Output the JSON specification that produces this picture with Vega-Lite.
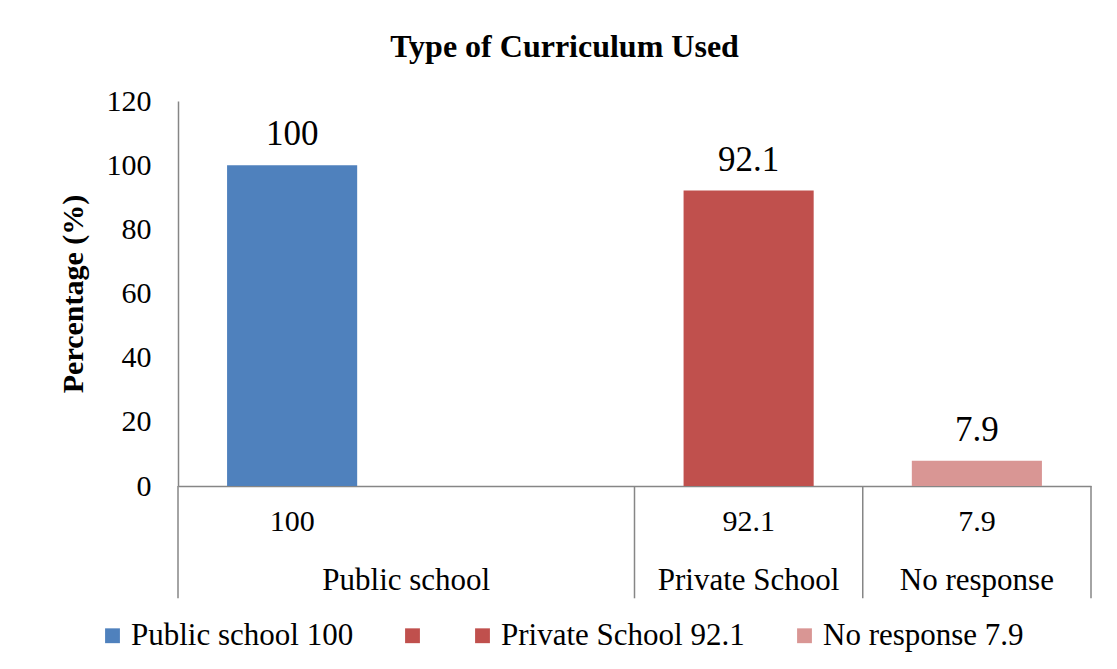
{
  "$schema": "https://vega.github.io/schema/vega-lite/v6.json",
  "width": 913,
  "height": 385,
  "autosize": {"type": "none"},
  "padding": {"left": 178, "top": 101, "right": 26, "bottom": 183},
  "background": "white",
  "config": {"view": {"stroke": null}, "font": "Liberation Serif"},
  "title": {"text": "Type of Curriculum Used", "font": "Liberation Serif", "fontSize": 32, "fontWeight": "bold", "color": "black", "dx": -70, "offset": 22},
  "datasets": {
    "bars": [
      {"slot": "s1", "category": "Public school  100", "value": 100, "label": "100"},
      {"slot": "s3", "category": "Private School  92.1", "value": 92.1, "label": "92.1"},
      {"slot": "s4", "category": "No response 7.9", "value": 7.9, "label": "7.9"}
    ],
    "seps": [{"slot": "s2"}, {"slot": "s3"}, {"slot": "s4"}],
    "edge": [{"slot": "s1"}],
    "grp1": [{"slot": "s1", "group": "Public school"}],
    "grp2": [{"slot": "s3", "group": "Private School"}, {"slot": "s4", "group": "No response"}]
  },
  "layer": [
    {
      "data": {"name": "bars"},
      "mark": {"type": "bar", "width": {"band": 0.57}},
      "encoding": {
        "x": {"field": "slot", "type": "nominal", "scale": {"domain": ["s1", "s2", "s3", "s4"], "paddingInner": 0, "paddingOuter": 0},
          "axis": {"title": null, "labels": false, "ticks": false, "domainColor": "#868686", "domainWidth": 1.5}},
        "y": {"field": "value", "type": "quantitative", "scale": {"domain": [0, 120], "nice": false},
          "axis": {"title": "Percentage (%)", "titleFont": "Liberation Serif", "titleFontSize": 30, "titleFontWeight": "bold", "titleColor": "black", "titlePadding": 18,
            "labelFont": "Liberation Serif", "labelFontSize": 30, "labelColor": "black", "labelPadding": 27, "ticks": false, "grid": false,
            "values": [0, 20, 40, 60, 80, 100, 120], "domainColor": "#868686", "domainWidth": 1.5}},
        "color": {"field": "category", "type": "nominal",
          "scale": {"domain": ["Public school  100", "blank", "Private School  92.1", "No response 7.9"], "range": ["#4F81BD", "#C0504D", "#C0504D", "#D99694"]},
          "legend": {"orient": "none", "legendX": -81, "legendY": 519, "direction": "horizontal", "title": null, "symbolType": "square", "symbolSize": 220,
            "labelFontSize": 31, "labelFont": "Liberation Serif", "labelColor": "black", "columnPadding": 36, "labelOffset": 3,
            "labelExpr": "datum.label == 'blank' ? '' : datum.label", "symbolStrokeWidth": 0, "padding": 0, "labelLimit": 400}}
      }
    },
    {
      "data": {"name": "bars"},
      "mark": {"type": "text", "fontSize": 35, "dy": -20, "baseline": "alphabetic", "font": "Liberation Serif", "color": "black"},
      "encoding": {
        "x": {"field": "slot", "type": "nominal"},
        "y": {"field": "value", "type": "quantitative"},
        "text": {"field": "label"}
      }
    },
    {
      "data": {"name": "bars"},
      "mark": {"type": "text", "fontSize": 30, "dy": 45, "baseline": "alphabetic", "font": "Liberation Serif", "color": "black"},
      "encoding": {
        "x": {"field": "slot", "type": "nominal"},
        "y": {"datum": 0},
        "text": {"field": "label"}
      }
    },
    {
      "data": {"name": "grp1"},
      "mark": {"type": "text", "fontSize": 31, "dy": 104, "baseline": "alphabetic", "font": "Liberation Serif", "color": "black"},
      "encoding": {
        "x": {"field": "slot", "type": "nominal", "bandPosition": 1},
        "y": {"datum": 0},
        "text": {"field": "group"}
      }
    },
    {
      "data": {"name": "grp2"},
      "mark": {"type": "text", "fontSize": 31, "dy": 104, "baseline": "alphabetic", "font": "Liberation Serif", "color": "black"},
      "encoding": {
        "x": {"field": "slot", "type": "nominal"},
        "y": {"datum": 0},
        "text": {"field": "group"}
      }
    },
    {
      "data": {"name": "seps"},
      "mark": {"type": "rule", "color": "#868686", "strokeWidth": 1.5},
      "encoding": {
        "x": {"field": "slot", "type": "nominal", "bandPosition": 1},
        "y": {"datum": 0},
        "y2": {"datum": -35}
      }
    },
    {
      "data": {"name": "edge"},
      "mark": {"type": "rule", "color": "#868686", "strokeWidth": 1.5},
      "encoding": {
        "x": {"field": "slot", "type": "nominal", "bandPosition": 0},
        "y": {"datum": 0},
        "y2": {"datum": -35}
      }
    }
  ]
}
